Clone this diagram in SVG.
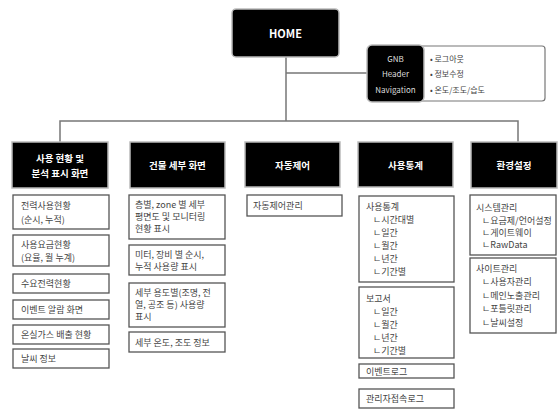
<svg xmlns="http://www.w3.org/2000/svg" width="560" height="410" viewBox="0 0 560 410">
<style>
.hd{fill:#000;stroke:#bbb;stroke-width:1.5}
.bx{fill:#fff;stroke:#555;stroke-width:1.3}
.ht{fill:#fff;font-family:"Noto Sans CJK KR","Noto Sans",sans-serif;font-size:9.5px;font-weight:bold;text-anchor:middle;dominant-baseline:central}
.t{fill:#444;font-family:"Noto Sans CJK KR","Noto Sans",sans-serif;font-size:9px;dominant-baseline:central}
.gt{fill:#ddd;font-family:"Noto Sans CJK KR","Noto Sans",sans-serif;font-size:8px;text-anchor:middle;dominant-baseline:central}
.ln{fill:none;stroke:#777;stroke-width:1.5}
</style>
<g id="connectors">
<path class="ln" d="M286 57V121M60 142V121H518V142M286 73H367"/>
</g>
<g id="home">
<rect x="232" y="9" width="107" height="48" rx="4" class="hd"/>
<text x="285.5" y="33" class="ht" style="font-size:11px">HOME</text>
</g>
<g id="gnb">
<rect x="418" y="46" width="127" height="55" rx="3" fill="#fff" stroke="#777" stroke-width="1.2"/>
<rect x="367" y="45" width="57" height="57" rx="5" class="hd"/>
<text x="395.5" y="58" class="gt">GNB</text>
<text x="395.5" y="73" class="gt">Header</text>
<text x="395.5" y="89" class="gt">Navigation</text>
<text x="430" y="58" class="t" style="font-size:8px">• 로그아웃</text>
<text x="430" y="73" class="t" style="font-size:8px">• 정보수정</text>
<text x="430" y="89" class="t" style="font-size:8px">• 온도/조도/습도</text>
</g>
<g id="col1">
<rect x="12" y="142" width="96" height="46" class="hd"/>
<text x="60" y="158" class="ht">사용 현황 및</text>
<text x="60" y="173" class="ht">분석 표시 화면</text>
<rect x="13" y="195" width="96" height="34" class="bx"/>
<text x="21" y="205" class="t">전력사용현황</text>
<text x="21" y="219" class="t">(순시, 누적)</text>
<rect x="13" y="235" width="96" height="31" class="bx"/>
<text x="21" y="244" class="t">사용요금현황</text>
<text x="21" y="257" class="t">(요율, 월 누계)</text>
<rect x="13" y="274" width="96" height="19" class="bx"/>
<text x="21" y="283.5" class="t">수요전력현황</text>
<rect x="13" y="300" width="96" height="19" class="bx"/>
<text x="21" y="309.5" class="t">이벤트 알람 화면</text>
<rect x="13" y="325" width="96" height="19" class="bx"/>
<text x="21" y="334.5" class="t">온실가스 배출 현황</text>
<rect x="13" y="349" width="96" height="19" class="bx"/>
<text x="21" y="358.5" class="t">날씨 정보</text>
</g>
<g id="col2">
<rect x="130" y="142" width="95" height="46" class="hd"/>
<text x="177.5" y="165" class="ht">건물 세부 화면</text>
<rect x="129" y="195" width="96" height="44" class="bx"/>
<text x="135" y="204" class="t">층별, zone 별 세부</text>
<text x="135" y="216" class="t">평면도 및 모니터링</text>
<text x="135" y="228" class="t">현황 표시</text>
<rect x="129" y="245" width="96" height="30" class="bx"/>
<text x="135" y="254" class="t">미터, 장비 별 순시,</text>
<text x="135" y="266" class="t">누적 사용량 표시</text>
<rect x="129" y="283" width="96" height="44" class="bx"/>
<text x="135" y="292" class="t">세부 용도별(조명, 전</text>
<text x="135" y="304" class="t">열, 공조 등) 사용량</text>
<text x="135" y="316" class="t">표시</text>
<rect x="129" y="332" width="96" height="20" class="bx"/>
<text x="135" y="342" class="t">세부 온도, 조도 정보</text>
</g>
<g id="col3">
<rect x="245" y="142" width="95" height="45" class="hd"/>
<text x="292.5" y="164.5" class="ht">자동제어</text>
<rect x="247" y="195" width="95" height="21" class="bx"/>
<text x="253" y="205.5" class="t">자동제어관리</text>
</g>
<g id="col4">
<rect x="358" y="142" width="95" height="45" class="hd"/>
<text x="405.5" y="164.5" class="ht">사용통계</text>
<rect x="359" y="196" width="95" height="86" class="bx"/>
<text x="366" y="206" class="t">사용통계</text>
<text x="373" y="219" class="t">ㄴ시간대별</text>
<text x="373" y="232" class="t">ㄴ일간</text>
<text x="373" y="245" class="t">ㄴ월간</text>
<text x="373" y="258" class="t">ㄴ년간</text>
<text x="373" y="271" class="t">ㄴ기간별</text>
<rect x="359" y="287" width="95" height="71" class="bx"/>
<text x="366" y="298" class="t">보고서</text>
<text x="373" y="311" class="t">ㄴ일간</text>
<text x="373" y="324" class="t">ㄴ월간</text>
<text x="373" y="337" class="t">ㄴ년간</text>
<text x="373" y="350" class="t">ㄴ기간별</text>
<rect x="359" y="364" width="95" height="14" class="bx"/>
<text x="366" y="371" class="t">이벤트로그</text>
<rect x="359" y="389" width="95" height="19" class="bx"/>
<text x="366" y="398.5" class="t">관리자접속로그</text>
</g>
<g id="col5">
<rect x="471" y="142" width="86" height="46" class="hd"/>
<text x="514" y="165" class="ht">환경설정</text>
<rect x="470" y="195" width="86" height="60" class="bx"/>
<text x="476" y="207" class="t">시스템관리</text>
<text x="482" y="220" class="t">ㄴ요금제/언어설정</text>
<text x="482" y="232" class="t">ㄴ게이트웨이</text>
<text x="482" y="244" class="t">ㄴRawData</text>
<rect x="470" y="258" width="86" height="75" class="bx"/>
<text x="476" y="268" class="t">사이트관리</text>
<text x="482" y="281" class="t">ㄴ사용자관리</text>
<text x="482" y="295" class="t">ㄴ메인노출관리</text>
<text x="482" y="308" class="t">ㄴ포틀릿관리</text>
<text x="482" y="322" class="t">ㄴ날씨설정</text>
</g>
</svg>
